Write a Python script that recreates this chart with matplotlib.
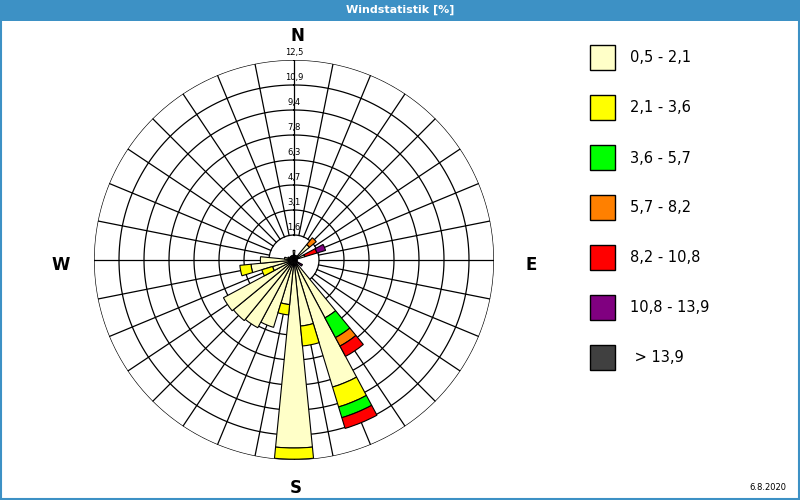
import numpy as np
import matplotlib
matplotlib.use("Agg")
import matplotlib.pyplot as plt
from matplotlib.patches import Rectangle

# 32 sectors, clockwise from north
n_dir = 32
directions = np.arange(n_dir) * 360.0 / n_dir

classes = ["0,5 - 2,1", "2,1 - 3,6", "3,6 - 5,7", "5,7 - 8,2",
           "8,2 - 10,8", "10,8 - 13,9", " > 13,9"]
colors = ["#ffffc8", "#ffff00", "#00ff00", "#ff8000",
          "#ff0000", "#800080", "#404040"]

# frequency [%] per sector and speed class
c1 = [0.6, 0.3, 0.3, 0.3, 1.25, 0.3, 0.7, 0.2, 0.2, 0.2, 0.2, 0.2, 0.2, 4.1, 8.3, 4.15,
      11.75, 2.8, 4.4, 4.8, 4.9, 5.0, 1.4, 2.7, 2.1, 0.6, 0.4, 0.3, 0.3, 0.3, 0.3, 0.3]
c2 = [0, 0, 0, 0, 0, 0, 0, 0, 0, 0, 0, 0, 0, 0, 1.3, 1.25,
      0.7, 0.65, 0, 0, 0, 0, 0.7, 0.7, 0, 0, 0, 0, 0, 0, 0, 0]
c3 = [0, 0, 0, 0, 0, 0, 0, 0, 0, 0, 0, 0, 0, 1.4, 0.7, 0,
      0, 0, 0, 0, 0, 0, 0, 0, 0, 0, 0, 0, 0, 0, 0, 0]
c4 = [0, 0, 0, 0, 0.55, 0, 0, 0, 0, 0, 0, 0, 0, 0.6, 0, 0,
      0, 0, 0, 0, 0, 0, 0, 0, 0, 0, 0, 0, 0, 0, 0, 0]
c5 = [0, 0, 0, 0, 0, 0, 0.8, 0, 0, 0, 0, 0, 0, 0.73, 0.7, 0,
      0, 0, 0, 0, 0, 0, 0, 0, 0, 0, 0, 0, 0, 0, 0, 0]
c6 = [0, 0, 0, 0, 0, 0, 0.56, 0, 0, 0, 0, 0.4, 0, 0, 0, 0,
      0, 0, 0, 0, 0, 0, 0, 0, 0, 0, 0, 0, 0, 0, 0, 0]
c7 = [0] * 32

ring_labels = ["1,6", "3,1", "4,7", "6,3", "7,8", "9,4", "10,9", "12,5"]
r_max = 12.5
ring_values = [r_max * (i + 1) / 8 for i in range(8)]

fig = plt.figure(figsize=(8, 5), dpi=100)
fig.patch.set_facecolor("white")

# title bar and frame
blue = "#3d91c5"
fig.patches.append(Rectangle((0, 1 - 21 / 500), 1, 21 / 500, transform=fig.transFigure,
                             facecolor=blue, edgecolor="none", zorder=0))
fig.patches.append(Rectangle((0.001, 0.002), 0.998, 0.996, transform=fig.transFigure,
                             facecolor="none", edgecolor=blue, linewidth=1.5, zorder=0))
fig.text(0.5, 1 - 10 / 500, "Windstatistik [%]", color="white", ha="center", va="center",
         fontsize=8, fontweight="bold", family=["Liberation Sans Narrow", "DejaVu Sans"])

ax = fig.add_axes([0.1175, 0.08, 0.5, 0.8], projection="polar")
ax.set_theta_zero_location("N")
ax.set_theta_direction(-1)
ax.set_ylim(0, r_max)
ax.grid(False)
ax.set_xticks([])
ax.set_yticks([])
ax.spines["polar"].set_visible(False)

# grid: rings and sector lines
t = np.linspace(0, 2 * np.pi, 400)
for rv in ring_values:
    ax.plot(t, np.full_like(t, rv), color="black", lw=0.9, zorder=1)
for d in directions:
    ax.plot([np.radians(d)] * 2, [ring_values[0], r_max], color="black", lw=0.9, zorder=1)

# stacked bars
theta = np.radians(directions)
width = np.radians(360.0 / n_dir)
bottom = np.zeros(n_dir)
for vals, col in zip([c1, c2, c3, c4, c5, c6, c7], colors):
    vals = np.array(vals, dtype=float)
    mask = vals > 0
    ax.bar(theta[mask], vals[mask], width=width, bottom=bottom[mask], color=col,
           edgecolor="black", linewidth=0.8, zorder=3)
    bottom += vals

# ring labels along north axis
for rv, lab in zip(ring_values, ring_labels):
    ax.text(0, rv + 0.45, lab, ha="center", va="center", fontsize=6, zorder=4)

# compass labels
fig.text(297 / 800, 1 - 36 / 500, "N", ha="center", va="center", fontsize=12, fontweight="bold")
fig.text(296 / 800, 1 - 488 / 500, "S", ha="center", va="center", fontsize=12, fontweight="bold")
fig.text(61 / 800, 1 - 265 / 500, "W", ha="center", va="center", fontsize=12, fontweight="bold")
fig.text(531 / 800, 1 - 265 / 500, "E", ha="center", va="center", fontsize=12, fontweight="bold")

# legend
for i, (lab, col) in enumerate(zip(classes, colors)):
    y_top = 45 + 50 * i
    fig.patches.append(Rectangle((590 / 800, 1 - (y_top + 25) / 500), 25 / 800, 25 / 500,
                                 transform=fig.transFigure, facecolor=col,
                                 edgecolor="black", linewidth=1, zorder=2))
    fig.text(630 / 800, 1 - (y_top + 13) / 500, lab, ha="left", va="center", fontsize=10.5)

fig.text(786 / 800, 1 - 488 / 500, "6.8.2020", ha="right", va="center", fontsize=6)

fig.savefig("out.png", dpi=100)
